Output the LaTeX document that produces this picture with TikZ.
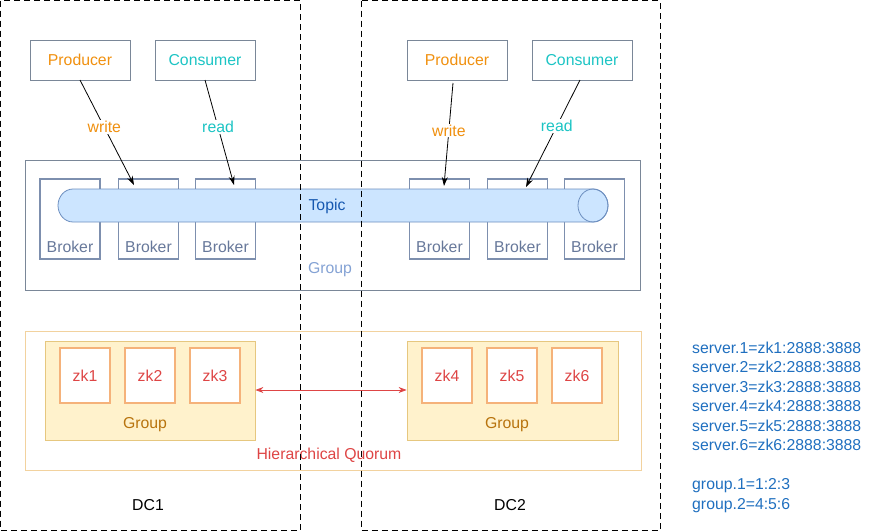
\documentclass[tikz,border=0pt]{standalone}
\usepackage{fontspec}
\setmainfont{Liberation Sans}
\usetikzlibrary{arrows.meta}
\definecolor{boxgray}{HTML}{7A8798}
\definecolor{brokerc}{HTML}{7D8FAE}
\definecolor{brokert}{HTML}{67789A}
\definecolor{prodc}{HTML}{F0900F}
\definecolor{consc}{HTML}{1CC4C4}
\definecolor{topicfill}{HTML}{CCE5FF}
\definecolor{topicline}{HTML}{6C8EBF}
\definecolor{topict}{HTML}{1658B0}
\definecolor{groupt}{HTML}{84A2D4}
\definecolor{zkouter}{HTML}{F2D29E}
\definecolor{zkfill}{HTML}{FFF2CC}
\definecolor{zkline}{HTML}{E6C77F}
\definecolor{zkbox}{HTML}{F5B27A}
\definecolor{zkred}{HTML}{DE4545}
\definecolor{zkgroup}{HTML}{B8740E}
\definecolor{cfgblue}{HTML}{1F6FBF}
\tikzset{
  txt/.style={font=\fontsize{15.8}{19.5}\selectfont},
  pcbox/.style={draw=boxgray, line width=0.9pt, minimum width=100pt, minimum height=40pt, inner sep=0pt, txt},
  broker/.style={draw=brokerc, line width=1.6pt, minimum width=60pt, minimum height=80pt, inner sep=0pt},
  zkb/.style={draw=zkbox, line width=1.8pt, fill=white, minimum width=50pt, minimum height=55pt, inner sep=0pt, txt, text=zkred},
  dcbox/.style={draw=black, line width=1pt, dash pattern=on 6pt off 4pt},
  flow/.style={draw=black, line width=0.8pt, -{Stealth[length=9pt,width=6pt]}},
  lbl/.style={txt, fill=white, inner sep=1pt},
}
\begin{document}
\begin{tikzpicture}[x=1pt,y=-1pt]
\useasboundingbox (0,0) rectangle (881,531);
% Kafka group box
\node[draw=boxgray, line width=0.8pt, minimum width=615pt, minimum height=130pt, inner sep=0pt] (kgroup) at (332.5,225) {};
\node[txt, text=groupt] (kgrouplbl) at (330,269.5) {Group};
% brokers
\foreach \n/\x in {b1/70, b2/148.5, b3/225.5, b4/439.5, b5/517.5, b6/594.5}{
  \node[broker] (\n) at (\x,219) {};
  \node[txt, text=brokert] (\n lbl) at (\x,247) {Broker};
}
% topic cylinder
\filldraw[fill=topicfill, draw=topicline, line width=0.8pt]
  (73,189) -- (593,189) arc[start angle=-90, end angle=90, x radius=15, y radius=16.5]
  -- (73,222) arc[start angle=90, end angle=270, x radius=15, y radius=16.5] -- cycle;
\draw[topicline, line width=0.8pt] (593,205.5) ellipse[x radius=15, y radius=16.5];
\node[txt, text=topict] (topic) at (327,206) {Topic};
% producers / consumers
\node[pcbox, text=prodc] (p1) at (80,60) {Producer};
\node[pcbox, text=consc] (c1) at (205,60) {Consumer};
\node[pcbox, text=prodc] (p2) at (457,60) {Producer};
\node[pcbox, text=consc] (c2) at (582,60) {Consumer};
\coordinate (p1s) at (80,80);
\coordinate (p1e) at (134,185);
\coordinate (c1s) at (205,80);
\coordinate (c1e) at (234,185);
\coordinate (p2s) at (453,83);
\coordinate (p2e) at (444,186);
\coordinate (c2s) at (580,80);
\coordinate (c2e) at (526,187);
\draw[flow] (p1s) -- node[lbl, text=prodc, pos=0.45] {write} (p1e);
\draw[flow] (c1s) -- node[lbl, text=consc, pos=0.45] {read} (c1e);
\draw[flow] (p2s) -- node[lbl, text=prodc, pos=0.46] {write} (p2e);
\draw[flow] (c2s) -- node[lbl, text=consc, pos=0.43] {read} (c2e);
% ZK
\node[draw=zkouter, line width=0.8pt, minimum width=616pt, minimum height=139pt, inner sep=0pt] (zkouter) at (333,400.5) {};
\node[draw=zkline, fill=zkfill, line width=0.8pt, minimum width=210pt, minimum height=99pt, inner sep=0pt] (g1) at (150,390.5) {};
\node[draw=zkline, fill=zkfill, line width=0.8pt, minimum width=211pt, minimum height=99pt, inner sep=0pt] (g2) at (512.5,390.5) {};
\node[zkb] (zk1) at (85,375.5) {zk1};
\node[zkb] (zk2) at (150,375.5) {zk2};
\node[zkb] (zk3) at (215,375.5) {zk3};
\node[zkb] (zk4) at (447,375.5) {zk4};
\node[zkb] (zk5) at (512,375.5) {zk5};
\node[zkb] (zk6) at (577,375.5) {zk6};
\node[txt, text=zkgroup] (g1lbl) at (145,425) {Group};
\node[txt, text=zkgroup] (g2lbl) at (507,425) {Group};
\draw[zkred, line width=0.8pt, {Stealth[length=8pt,width=6pt]}-{Stealth[length=8pt,width=6pt]}] (g1.east |- 0,390) -- (g2.west |- 0,390);
\node[txt, text=zkred] (hq) at (329,455.5) {Hierarchical Quorum};
% DC boxes
\draw[dcbox] (0.5,0.5) rectangle (300.5,530);
\draw[dcbox] (361,0.5) rectangle (660,530);
\node[txt] (dc1) at (148,505) {DC1};
\node[txt] (dc2) at (510,505) {DC2};
% config text
\node[txt, text=cfgblue, anchor=north west, align=left, inner sep=0pt] (cfg) at (692,341.5)
{server.1=zk1:2888:3888\\server.2=zk2:2888:3888\\server.3=zk3:2888:3888\\server.4=zk4:2888:3888\\server.5=zk5:2888:3888\\server.6=zk6:2888:3888\\[19.5pt]group.1=1:2:3\\group.2=4:5:6};
\end{tikzpicture}
\end{document}
